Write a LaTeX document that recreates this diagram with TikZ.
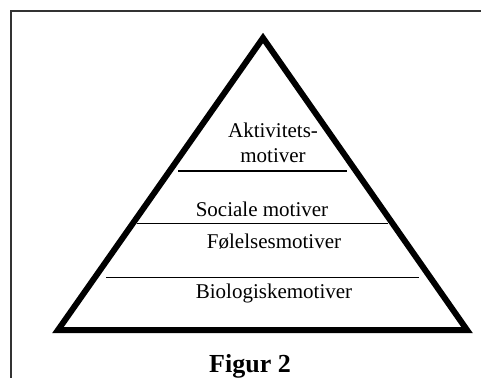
\documentclass[tikz,border=0pt]{standalone}
\usepackage{fontspec}
\setmainfont{Liberation Serif}
\usepackage{tikz}
\tikzset{
  livello/.style={inner sep=0pt, anchor=base, align=center, font=\fontsize{21}{25}\selectfont},
  divisore/.style={-, black, line width=1.6pt},
}

\begin{document}
\begin{tikzpicture}[x=1pt,y=-1pt]
\useasboundingbox (0,0) rectangle (481,378);
%CORNICE
\coordinate (cr) at (481,11);
\coordinate (cs) at (11,11);
\coordinate (cb) at (11,378);
\draw[-, black!80, line width=1.3pt] (cr) -- (cs) -- (cb);
%VERTICI
\coordinate (apice) at (263,38);
\coordinate (bs) at (58,330);
\coordinate (bd) at (467,330);
%TRIANGOLO
\draw[-, black, line width=6pt, line join=miter] (apice) -- (bd) -- (bs) -- cycle;
%DIVISORI
\coordinate (d1s) at (178,171);
\coordinate (d1d) at (347,171);
\coordinate (d2s) at (137,223.5);
\coordinate (d2d) at (388,223.5);
\coordinate (d3s) at (106,277.5);
\coordinate (d3d) at (419,277.5);
\draw[divisore] (d1s) -- (d1d);
\draw[divisore] (d2s) -- (d2d);
\draw[divisore] (d3s) -- (d3d);
%TESTI
\node[livello] (att) at (273,162) {Aktivitets-\\motiver};
\node[livello] (soc) at (262,216) {Sociale motiver};
\node[livello] (fol) at (274,248) {Følelsesmotiver};
\node[livello] (bio) at (274,298) {Biologiskemotiver};
\node[inner sep=0pt, anchor=base, font=\fontsize{26}{30}\selectfont\bfseries] (fig) at (250,372) {Figur 2};
\end{tikzpicture}
\end{document}
